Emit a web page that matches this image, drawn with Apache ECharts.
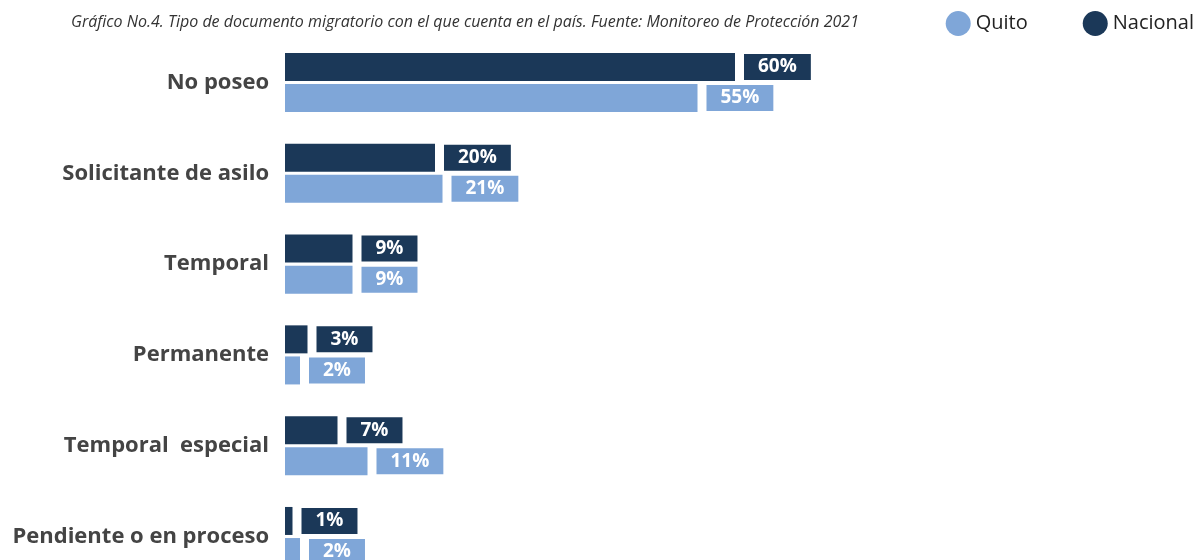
<!DOCTYPE html>
<html>
<head>
<meta charset="utf-8">
<script src="https://cdn.jsdelivr.net/npm/echarts@6/dist/echarts.min.js"></script>
<style>html,body{margin:0;padding:0;background:#fff;overflow:hidden;}#c{width:1201px;height:600px;}</style>
</head>
<body>
<div id="c"></div>
<script>
var categories = ['No poseo', 'Solicitante de asilo', 'Temporal', 'Permanente', 'Temporal  especial', 'Pendiente o en proceso'];
var nacional = [60, 20, 9, 3, 7, 1];
var quito = [55, 21, 9, 2, 11, 2];
var titleText = 'Gráfico No.4. Tipo de documento migratorio con el que cuenta en el país. Fuente: Monitoreo de Protección 2021';
var colorNacional = '#1b3858';
var colorQuito = '#7fa6d8';
var FONT = '"Open Sans", Lato, sans-serif';

function lbl(color) {
  return {
    show: true, position: 'right', distance: 9, formatter: '{c}%',
    color: '#fff', fontWeight: 'bold', fontSize: 19, fontFamily: FONT,
    backgroundColor: color, padding: [3, 14, 3, 14], lineHeight: 20
  };
}

var chart = echarts.init(document.getElementById('c'));
chart.setOption({
  animation: false,
  title: {
    text: titleText, left: 66, top: 9,
    textStyle: { fontSize: 16, fontStyle: 'italic', fontWeight: 'normal', color: '#333', fontFamily: FONT }
  },
  legend: {
    data: ['Quito', 'Nacional'], right: 2, top: 6, icon: 'circle', itemWidth: 25, itemHeight: 25, itemGap: 55,
    textStyle: { fontSize: 20, color: '#222', fontFamily: FONT }
  },
  grid: { left: 285, top: 37.1, width: 750, height: 544.8 },
  xAxis: { type: 'value', min: 0, max: 100, show: false },
  yAxis: {
    type: 'category', data: categories, inverse: true,
    axisLine: { show: false }, axisTick: { show: false },
    axisLabel: { fontSize: 22, fontWeight: 'bold', color: '#444', margin: 16, fontFamily: FONT }
  },
  series: [
    { name: 'Nacional', type: 'bar', data: nacional, barWidth: 28, barGap: '11%', itemStyle: { color: colorNacional }, label: lbl(colorNacional) },
    { name: 'Quito', type: 'bar', data: quito, barWidth: 28, barGap: '11%', itemStyle: { color: colorQuito }, label: lbl(colorQuito) }
  ]
});
</script>
</body>
</html>
